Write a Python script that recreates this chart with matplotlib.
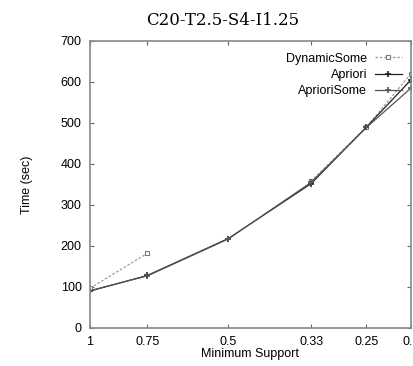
import numpy as np
import matplotlib.pyplot as plt

support = [1, 0.75, 0.5, 0.33, 0.25, 0.2]
tick_labels = ['1', '0.75', '0.5', '0.33', '0.25', '0.2']
dynamic_some = [97, 182, np.nan, 358, 490, 620]
apriori = [90, 128, 218, 352, 490, 605]
apriori_some = [91, 127, 217, 355, 489, 585]

plt.rcParams['font.family'] = ['Liberation Sans', 'DejaVu Sans']

fig = plt.figure(figsize=(4.13, 3.66), dpi=100)
ax = fig.add_axes([0.218, 0.104, 0.777, 0.784])

ax.plot(support, dynamic_some, color='#999999', linestyle=(0, (2, 1.5)), linewidth=0.9,
        marker='s', markersize=3.5, markerfacecolor='white', markeredgecolor='#777777',
        markeredgewidth=0.8, label='DynamicSome')
ax.plot(support, apriori, color='#222222', linewidth=0.9, marker='+', markersize=4,
        markeredgewidth=1.2, label='Apriori')
ax.plot(support, apriori_some, color='#555555', linewidth=0.9, marker='+', markersize=4,
        markeredgewidth=1.2, label='AprioriSome')

ax.set_xscale('log')
ax.set_xlim(1, 0.2)
ax.set_ylim(0, 700)
ax.set_xticks(support)
ax.set_xticklabels(tick_labels)
ax.minorticks_off()
ax.set_yticks(range(0, 701, 100))

for s in ax.spines.values():
    s.set_color('#888888')
    s.set_linewidth(1.2)
ax.tick_params(direction='in', length=3, color='#666666', top=True, right=True,
               labelsize=9, pad=6)

ax.set_xlabel('Minimum Support', fontsize=9, labelpad=0)
ax.set_ylabel('Time (sec)', fontsize=9, labelpad=20)
fig.text(0.54, 0.945, 'C20-T2.5-S4-I1.25', ha='center', va='center',
         fontsize=12, family='DejaVu Serif')

leg = ax.legend(loc='upper right', markerfirst=False, frameon=False, fontsize=9,
                handlelength=2.2, handletextpad=0.6, labelspacing=0.35,
                borderaxespad=0.3, bbox_to_anchor=(1.0, 0.99))

fig.savefig('out.png', dpi=100)
